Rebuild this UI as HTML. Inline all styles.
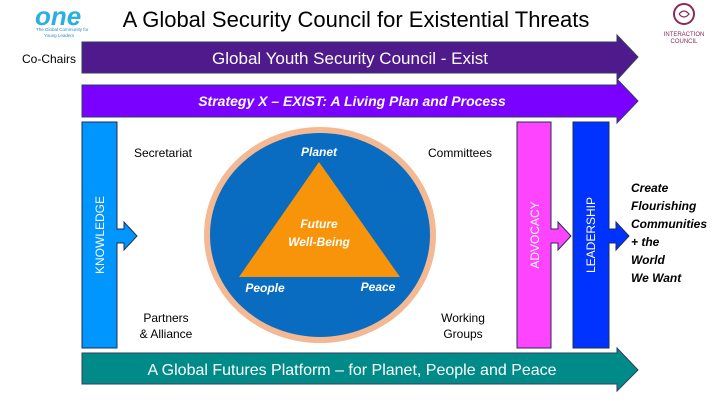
<!DOCTYPE html>
<html><head><meta charset="utf-8"><style>
body{margin:0;background:#fff}
svg{display:block}
text{font-family:"Liberation Sans","DejaVu Sans",sans-serif}
</style></head><body>
<svg width="720" height="405" viewBox="0 0 720 405" xmlns="http://www.w3.org/2000/svg">
<rect width="720" height="405" fill="#fff"/>
<!-- logos -->
<text x="35" y="25" font-size="26" font-style="italic" font-weight="bold" fill="#2ab0e0">one</text>
<text x="36" y="31" font-size="4.5" fill="#2a8cc8">The Global Community for</text>
<text x="44" y="37" font-size="4.5" fill="#2a8cc8">Young Leaders</text>
<circle cx="684" cy="14" r="10" fill="none" stroke="#8a2a5a" stroke-width="2"/>
<path d="M679 14 q5 -6 10 0 q-5 6 -10 0" fill="none" stroke="#8a2a5a" stroke-width="1.2"/>
<text x="684" y="36" font-size="6" fill="#8a2a5a" text-anchor="middle">INTERACTION</text>
<text x="684" y="43" font-size="6" fill="#8a2a5a" text-anchor="middle">COUNCIL</text>
<!-- title -->
<text x="356" y="27" font-size="22" text-anchor="middle" fill="#000">A Global Security Council for Existential Threats</text>
<text x="76" y="63" font-size="12" text-anchor="end" fill="#000">Co-Chairs</text>
<!-- arrow 1 -->
<polygon points="82,42 617,42 617,35 638,57 617,80 617,73 82,73" fill="#4f1a8c" stroke="#2f3f5f" stroke-width="1"/>
<text x="350" y="64" font-size="17" text-anchor="middle" fill="#fff">Global Youth Security Council - Exist</text>
<!-- arrow 2 -->
<polygon points="82,85 617,85 617,79 638,101 617,123 617,117 82,117" fill="#7a00ff" stroke="#2f3f5f" stroke-width="1"/>
<text x="352" y="106" font-size="14" font-style="italic" font-weight="bold" text-anchor="middle" fill="#fff">Strategy  X – EXIST: A Living Plan and Process</text>
<!-- knowledge -->
<polygon points="82,122 117,122 117,229 124,229 124,222 137,236 124,250 124,243 117,243 117,348 82,348" fill="#0096ff" stroke="#1f2f4f" stroke-width="1"/>
<text transform="translate(104,235) rotate(-90)" font-size="12" text-anchor="middle" fill="#fff">KNOWLEDGE</text>
<!-- side labels -->
<text x="163" y="157" font-size="12" text-anchor="middle" fill="#000">Secretariat</text>
<text x="166" y="322" font-size="12" text-anchor="middle" fill="#000">Partners</text>
<text x="166" y="338" font-size="12" text-anchor="middle" fill="#000">&amp; Alliance</text>
<text x="460" y="157" font-size="12" text-anchor="middle" fill="#000">Committees</text>
<text x="463" y="322" font-size="12" text-anchor="middle" fill="#000">Working</text>
<text x="463" y="338" font-size="12" text-anchor="middle" fill="#000">Groups</text>
<!-- circle -->
<ellipse cx="320" cy="235" rx="113" ry="105" fill="#0a6cc0" stroke="#f4b892" stroke-width="6"/>
<polygon points="319,162 239,277 400,277" fill="#f7940a"/>
<g font-size="12" font-style="italic" font-weight="bold" fill="#fff" text-anchor="middle">
<text x="319" y="156">Planet</text>
<text x="319" y="228">Future</text>
<text x="319" y="246">Well-Being</text>
<text x="265" y="292">People</text>
<text x="378" y="291">Peace</text>
</g>
<!-- advocacy -->
<polygon points="517,122 551,122 551,229 558,229 558,222 571,236 558,250 558,243 551,243 551,348 517,348" fill="#ff44ff" stroke="#1f2f4f" stroke-width="1"/>
<text transform="translate(539,235) rotate(-90)" font-size="12" text-anchor="middle" fill="#fff">ADVOCACY</text>
<!-- leadership -->
<polygon points="573,122 609,122 609,229 616,229 616,222 629,236 616,250 616,243 609,243 609,348 573,348" fill="#0033ff" stroke="#1f2f4f" stroke-width="1"/>
<text transform="translate(595,235) rotate(-90)" font-size="12" text-anchor="middle" fill="#fff">LEADERSHIP</text>
<g font-size="12" font-style="italic" font-weight="bold" fill="#000">
<text x="631" y="192">Create</text>
<text x="631" y="210">Flourishing</text>
<text x="631" y="228">Communities</text>
<text x="631" y="246">+ the</text>
<text x="631" y="264">World</text>
<text x="631" y="282">We Want</text>
</g>
<!-- bottom arrow -->
<polygon points="82,353 617,353 617,348 638,370 617,391 617,384 82,384" fill="#008b88" stroke="#2f3f5f" stroke-width="1"/>
<text x="352" y="375" font-size="16" text-anchor="middle" fill="#fff">A Global Futures Platform – for Planet, People and Peace</text>
</svg>
</body></html>
